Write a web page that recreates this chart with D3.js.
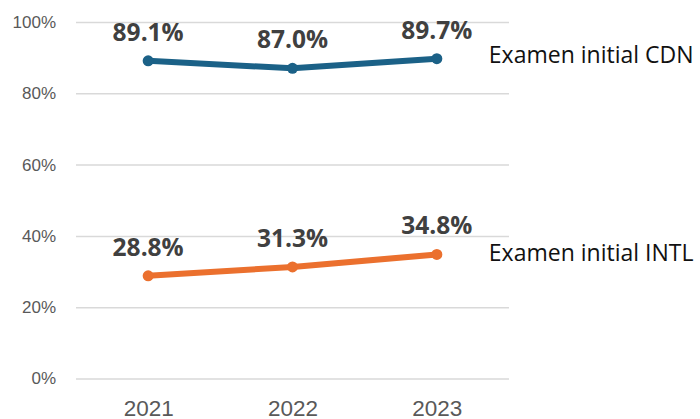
<!DOCTYPE html>
<html>
<head>
<meta charset="utf-8">
<script src="https://cdn.jsdelivr.net/npm/d3@7"></script>
<style>
  body { margin: 0; background: #fff; }
  svg { display: block; font-family: "Open Sans", sans-serif; }
</style>
</head>
<body>
<div id="chart"></div>
<script>
const years = ["2021", "2022", "2023"];
const cdnValues = [89.1, 87.0, 89.7];
const intlValues = [28.8, 31.3, 34.8];
const seriesNames = ["Examen initial CDN", "Examen initial INTL"];
const yTicks = [0, 20, 40, 60, 80, 100];

const WIDTH = 700, HEIGHT = 419;
const MARGIN = { LEFT: 76, RIGHT: 191, TOP: 22, BOTTOM: 41 };

const svg = d3.select("#chart").append("svg")
  .attr("width", WIDTH)
  .attr("height", HEIGHT);

// scales
const x = d3.scalePoint()
  .domain(years)
  .range([MARGIN.LEFT, WIDTH - MARGIN.RIGHT])
  .padding(0.5);
const y = d3.scaleLinear()
  .domain([0, 100])
  .range([HEIGHT - MARGIN.BOTTOM + 0.5, MARGIN.TOP]);

// gridlines
const yAxis = svg.append("g")
  .attr("transform", `translate(${MARGIN.LEFT}, 0)`)
  .call(d3.axisLeft(y)
    .tickValues(yTicks)
    .tickSize(-(WIDTH - MARGIN.LEFT - MARGIN.RIGHT))
    .tickPadding(20)
    .tickFormat(d => d + "%"));
yAxis.select(".domain").remove();
yAxis.selectAll(".tick line")
  .attr("stroke", "#d9d9d9")
  .attr("stroke-width", 1.5);
yAxis.selectAll(".tick text")
  .attr("fill", "#595959")
  .attr("font-size", "17px");

// x axis labels
const xAxis = svg.append("g")
  .attr("transform", `translate(0, ${HEIGHT - MARGIN.BOTTOM})`)
  .call(d3.axisBottom(x).tickSize(0).tickPadding(22));
xAxis.select(".domain").remove();
xAxis.selectAll(".tick text")
  .attr("fill", "#595959")
  .attr("font-size", "22.5px");

const series = [
  { name: seriesNames[0], values: cdnValues, color: "#1b6187", legendDy: -4 },
  { name: seriesNames[1], values: intlValues, color: "#eb702e", legendDy: -1 }
];

const line = d3.line()
  .x((d, i) => x(years[i]))
  .y(d => y(d));

series.forEach(s => {
  const g = svg.append("g");

  g.append("path")
    .attr("d", line(s.values))
    .attr("fill", "none")
    .attr("stroke", s.color)
    .attr("stroke-width", 6)
    .attr("stroke-linejoin", "round");

  g.selectAll("circle")
    .data(s.values)
    .join("circle")
    .attr("cx", (d, i) => x(years[i]))
    .attr("cy", d => y(d))
    .attr("r", 5.5)
    .attr("fill", s.color);

  // value labels
  g.selectAll(".value")
    .data(s.values)
    .join("text")
    .attr("class", "value")
    .attr("x", (d, i) => x(years[i]))
    .attr("y", d => y(d) - 20)
    .attr("text-anchor", "middle")
    .attr("font-size", "24.5px")
    .attr("font-weight", "bold")
    .attr("fill", "#404040")
    .text(d => d.toFixed(1) + "%");

  // series label
  const last = s.values[s.values.length - 1];
  g.append("text")
    .attr("x", x(years[years.length - 1]) + 52)
    .attr("y", y(last) + s.legendDy)
    .attr("dy", "0.35em")
    .attr("font-size", "23px")
    .attr("fill", "#111")
    .text(s.name);
});
</script>
</body>
</html>
